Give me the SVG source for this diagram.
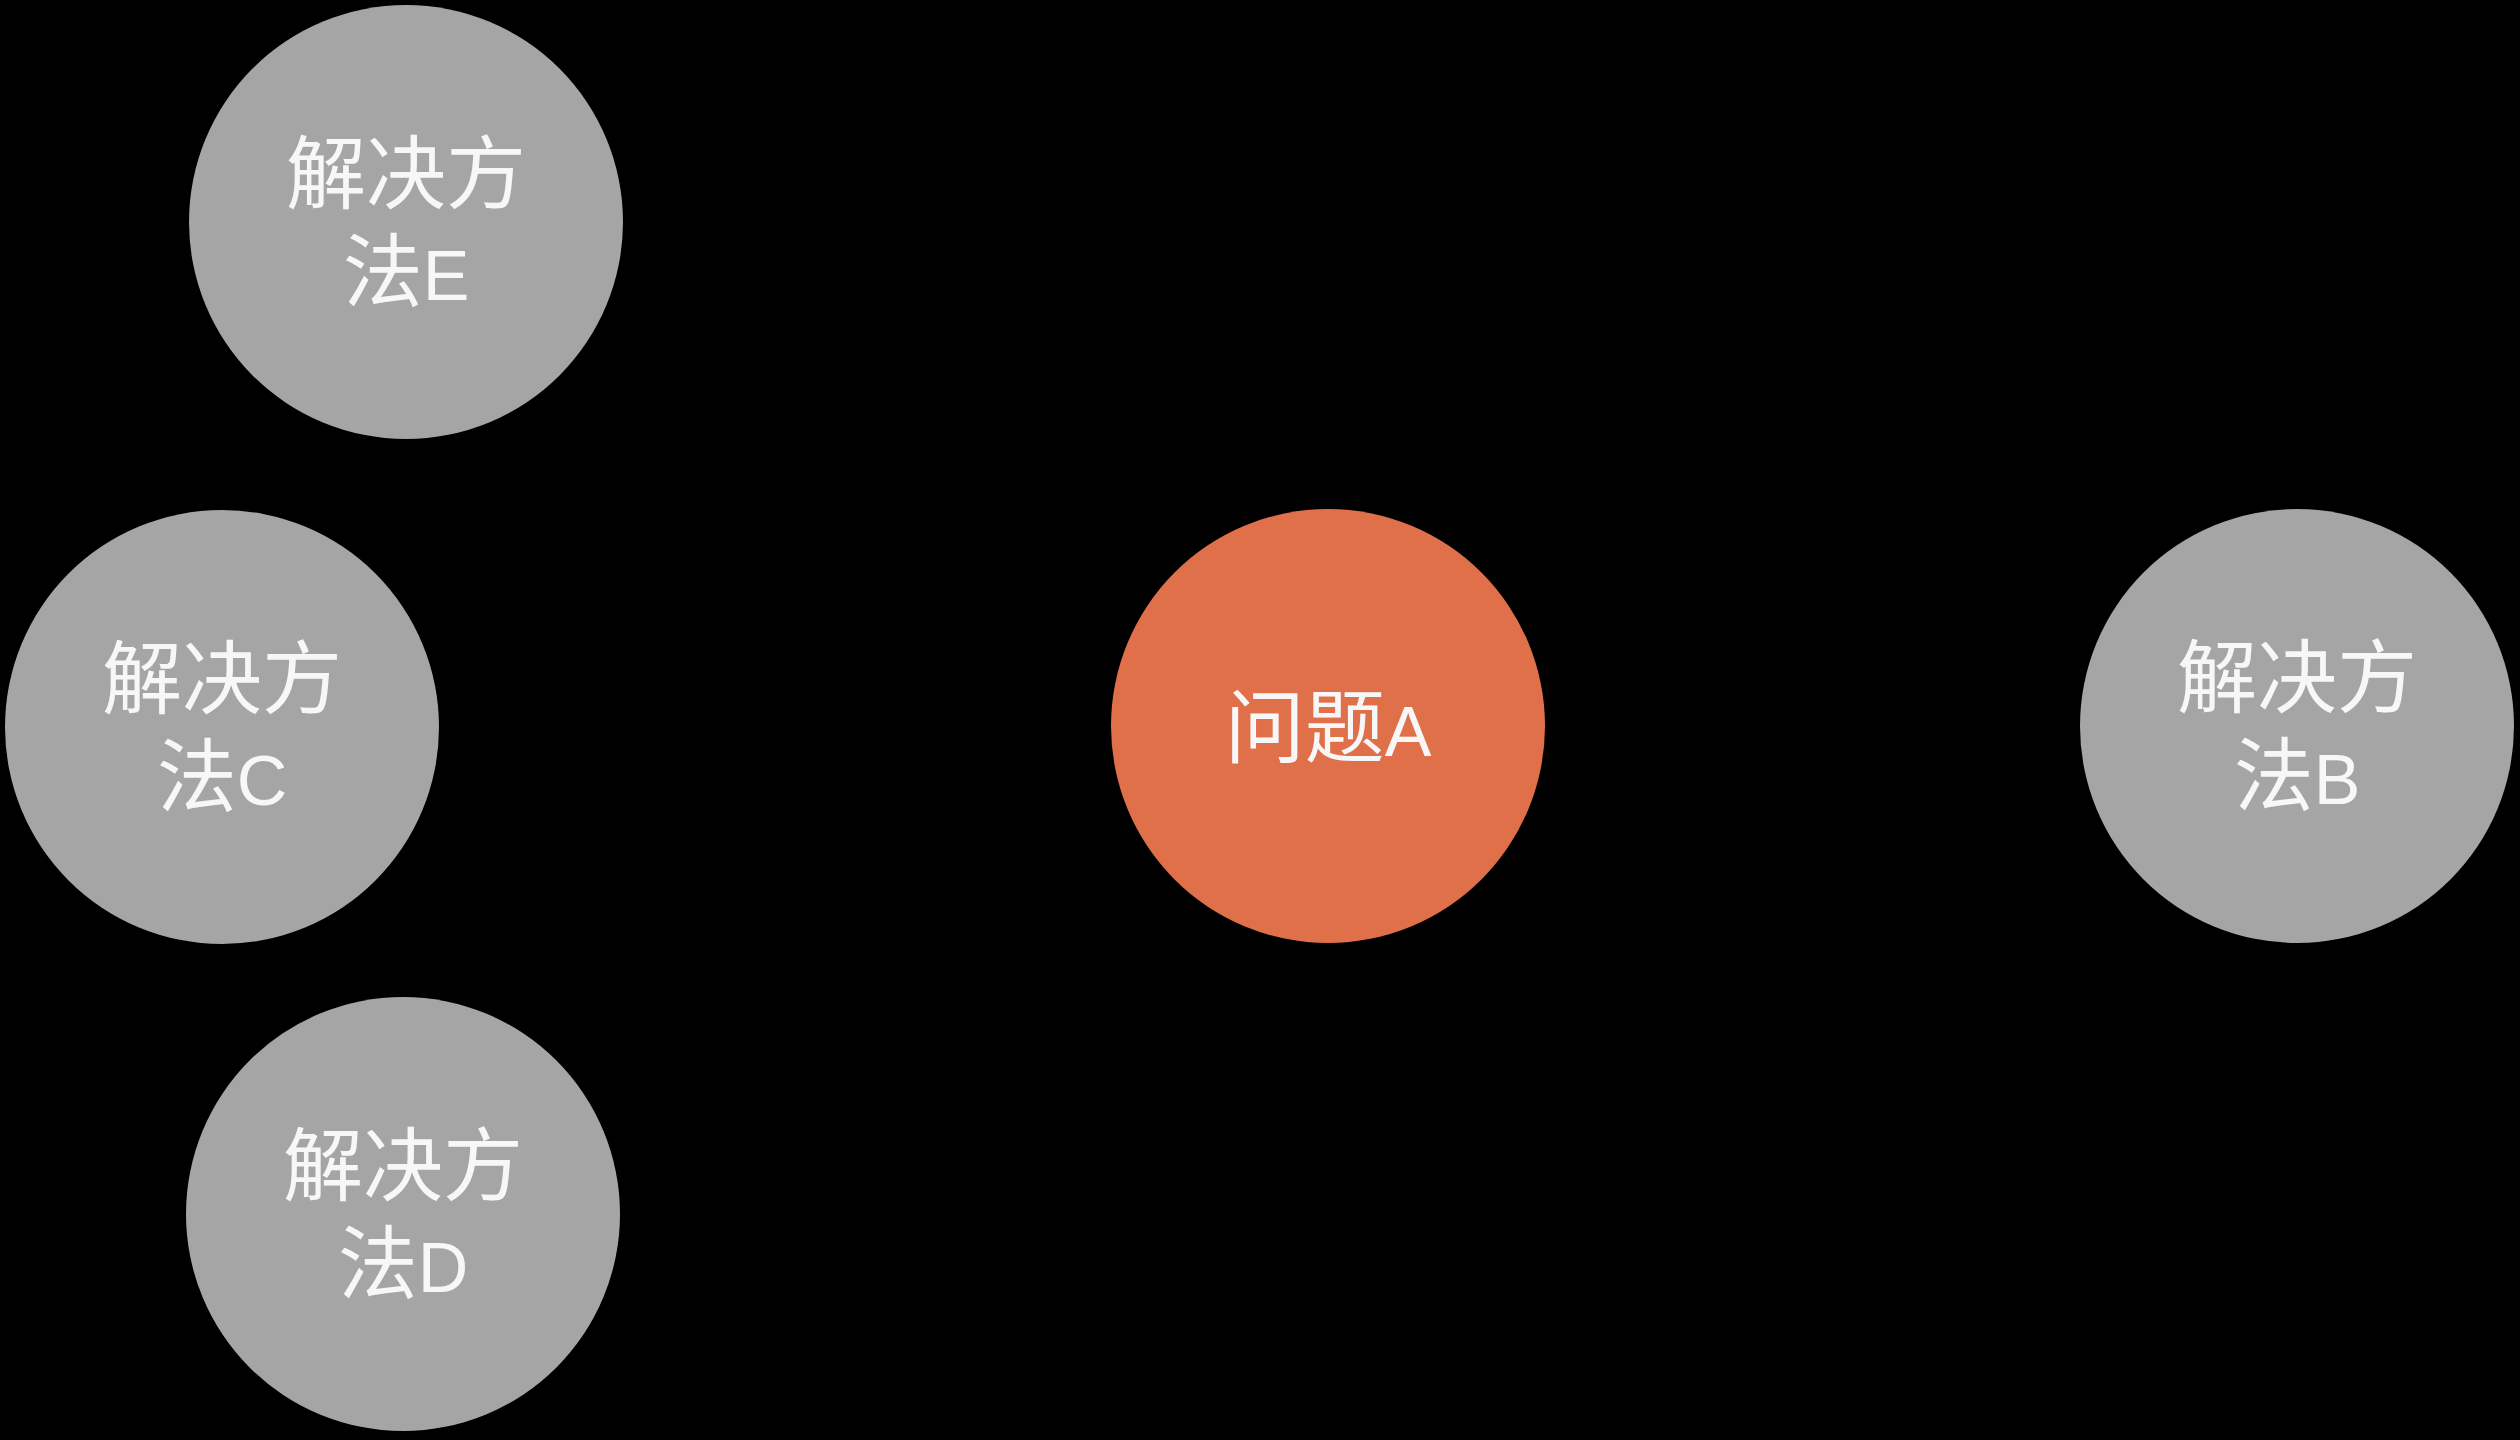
<svg xmlns="http://www.w3.org/2000/svg" width="2520" height="1440" viewBox="0 0 2520 1440">
  <style>
    .bg { fill: #000000; }
    .sol { fill: #a5a5a5; }
    .prob { fill: #e0704a; }
    .lbl { font-family: "Liberation Sans", "Noto Sans CJK SC", sans-serif; font-size: 80px; fill: #f7f7f7; text-anchor: middle; }
    .lat { font-family: "Liberation Sans", sans-serif; font-size: 70px; }
  </style>
  <rect class="bg" x="0" y="0" width="2520" height="1440"/>
  <g id="connectors"></g>
  <g id="node-E">
    <circle class="sol" cx="406" cy="222" r="217"/>
    <text class="lbl" x="406" y="202">解决方</text>
    <text class="lbl" x="406" y="300">法<tspan class="lat">E</tspan></text>
  </g>
  <g id="node-C">
    <circle class="sol" cx="222" cy="727" r="217"/>
    <text class="lbl" x="222" y="707">解决方</text>
    <text class="lbl" x="222" y="805">法<tspan class="lat">C</tspan></text>
  </g>
  <g id="node-D">
    <circle class="sol" cx="403" cy="1214" r="217"/>
    <text class="lbl" x="403" y="1194">解决方</text>
    <text class="lbl" x="403" y="1292">法<tspan class="lat">D</tspan></text>
  </g>
  <g id="node-A">
    <circle class="prob" cx="1328" cy="726" r="217"/>
    <text class="lbl" x="1328" y="756">问题<tspan class="lat">A</tspan></text>
  </g>
  <g id="node-B">
    <circle class="sol" cx="2297" cy="726" r="217"/>
    <text class="lbl" x="2297" y="706">解决方</text>
    <text class="lbl" x="2297" y="804">法<tspan class="lat">B</tspan></text>
  </g>
</svg>
